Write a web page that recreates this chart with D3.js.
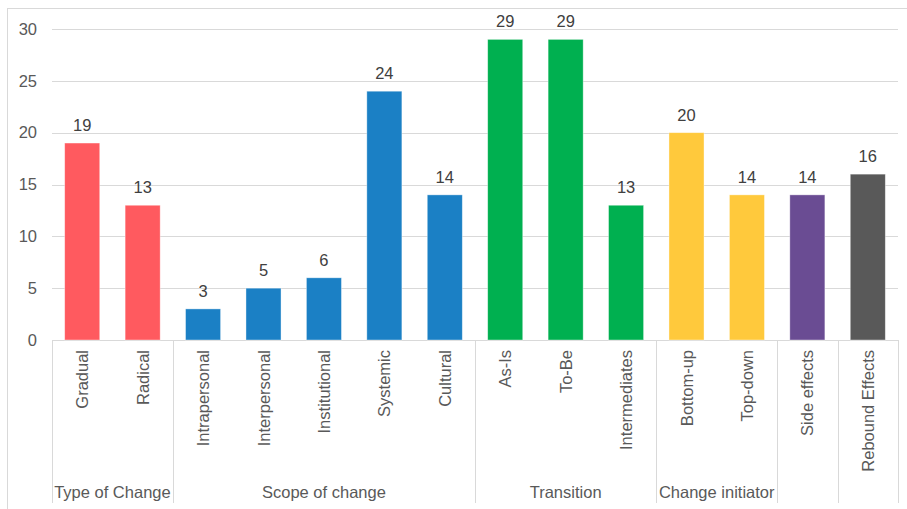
<!DOCTYPE html>
<html>
<head>
<meta charset="utf-8">
<script src="https://cdn.jsdelivr.net/npm/d3@7"></script>
<style>
  html, body { margin: 0; padding: 0; background: #fff; }
  svg { display: block; font-family: "Liberation Sans", Arial, sans-serif; }
</style>
</head>
<body>
<svg id="chart" width="907" height="509"></svg>
<script>
// Categories, their counts and grouping
const categories = ["Gradual", "Radical", "Intrapersonal", "Interpersonal", "Institutional",
  "Systemic", "Cultural", "As-Is", "To-Be", "Intermediates", "Bottom-up", "Top-down",
  "Side effects", "Rebound Effects"];
const counts = [19, 13, 3, 5, 6, 24, 14, 29, 29, 13, 20, 14, 14, 16];
const groupOf = ["Type of Change", "Type of Change", "Scope of change", "Scope of change",
  "Scope of change", "Scope of change", "Scope of change", "Transition", "Transition",
  "Transition", "Change initiator", "Change initiator", "Side effects", "Rebound Effects"];
// Group titles shown in the lower axis row (empty for single-category groups)
const groups = ["Type of Change", "Scope of change", "Transition", "Change initiator", "Side effects", "Rebound Effects"];
const groupTitles = ["Type of Change", "Scope of change", "Transition", "Change initiator", "", ""];
const groupColors = ["#FF5A5F", "#1B80C5", "#00B050", "#FFC93C", "#6A4C93", "#595959"];
const yTicks = [0, 5, 10, 15, 20, 25, 30];

const svg = d3.select("#chart");
const plotLeft = 52, plotRight = 898, plotTop = 29, plotBottom = 340;
const fontSize = 16.5;

// outer frame
svg.append("rect")
  .attr("x", 7.5).attr("y", 8.5).attr("width", 905).attr("height", 510)
  .attr("fill", "none").attr("stroke", "#D9D9D9").attr("stroke-width", 1);

const x = d3.scaleBand().domain(categories).range([plotLeft, plotRight]).paddingInner(0.42).paddingOuter(0.21);
const xStep = (plotRight - plotLeft) / categories.length;
const y = d3.scaleLinear().domain([0, 30]).range([plotBottom, plotTop]);
const color = d3.scaleOrdinal().domain(groups).range(groupColors);

// gridlines
svg.append("g").selectAll("line").data(yTicks).join("line")
  .attr("x1", plotLeft).attr("x2", plotRight)
  .attr("y1", d => Math.round(y(d)) + 0.5).attr("y2", d => Math.round(y(d)) + 0.5)
  .attr("stroke", "#D9D9D9").attr("stroke-width", 1);

// y axis labels
const yAxis = svg.append("g").attr("transform", `translate(${plotLeft},0)`)
  .call(d3.axisLeft(y).tickValues(yTicks).tickSize(0).tickPadding(15));
yAxis.select(".domain").remove();
yAxis.selectAll("text").attr("font-size", fontSize).attr("fill", "#595959")
  .attr("font-family", "Liberation Sans, Arial, sans-serif");

// bars
svg.append("g").selectAll("rect").data(categories).join("rect")
  .attr("x", d => x(d))
  .attr("y", (d, i) => y(counts[i]))
  .attr("width", x.bandwidth())
  .attr("height", (d, i) => y(0) - y(counts[i]))
  .attr("fill", (d, i) => color(groupOf[i]))
  .attr("stroke", "#fff").attr("stroke-opacity", 0.5).attr("stroke-width", 0.75);

// value labels
svg.append("g").selectAll("text").data(categories).join("text")
  .attr("x", d => x(d) + x.bandwidth() / 2)
  .attr("y", (d, i) => y(counts[i]) - 12)
  .attr("text-anchor", "middle")
  .attr("font-size", fontSize).attr("fill", "#404040")
  .text((d, i) => counts[i]);

// category labels, rotated
svg.append("g").selectAll("text").data(categories).join("text")
  .attr("transform", d => `translate(${x(d) + x.bandwidth() / 2 + 6},350) rotate(-90)`)
  .attr("text-anchor", "end")
  .attr("font-size", fontSize).attr("fill", "#595959")
  .text(d => d);

// group separators and titles
const groupBounds = groups.map(g => {
  const idx = categories.map((c, i) => i).filter(i => groupOf[i] === g);
  return { g, start: idx[0], end: idx[idx.length - 1] + 1 };
});
const sepIdx = [0, ...groupBounds.map(b => b.end)];
svg.append("g").selectAll("line").data(sepIdx).join("line")
  .attr("x1", i => Math.round(plotLeft + i * xStep) + 0.5)
  .attr("x2", i => Math.round(plotLeft + i * xStep) + 0.5)
  .attr("y1", plotBottom).attr("y2", 503)
  .attr("stroke", "#D9D9D9").attr("stroke-width", 1);

svg.append("g").selectAll("text").data(groupBounds).join("text")
  .attr("x", b => plotLeft + (b.start + b.end) / 2 * xStep)
  .attr("y", 498)
  .attr("text-anchor", "middle")
  .attr("font-size", fontSize).attr("fill", "#595959")
  .text((b, i) => groupTitles[i]);
</script>
</body>
</html>
